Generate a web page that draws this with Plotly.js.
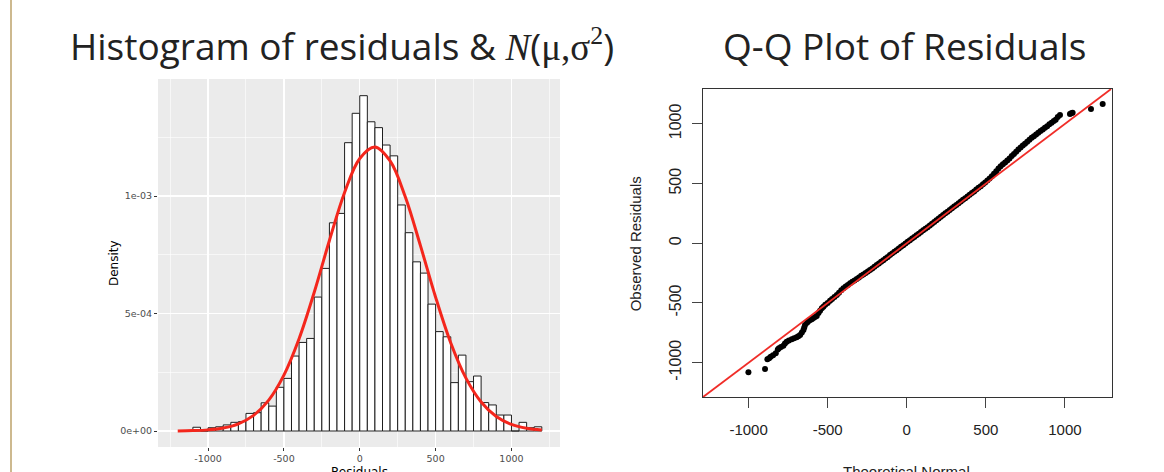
<!DOCTYPE html>
<html>
<head>
<meta charset="utf-8">
<script src="https://cdn.plot.ly/plotly-3.0.1.min.js"></script>
<style>html,body{margin:0;padding:0;background:#fff;}#chart{width:1164px;height:472px;}</style>
</head>
<body>
<div id="chart"></div>
<script>
// ---- Histogram data (bin width 50) ----
const binCenters = [-1075,-1025,-975,-925,-875,-825,-775,-725,-675,-625,-575,-525,-475,-425,-375,-325,-275,-225,-175,-125,-75,-25,
  25,75,125,175,225,275,325,375,425,475,525,575,625,675,725,775,825,875,925,975,1025,1075,1125,1175];
const binDensity = [1.6e-5,0,1.4e-5,1.8e-5,2.6e-5,3.7e-5,4.0e-5,7.5e-5,7.8e-5,1.20e-4,1.06e-4,1.86e-4,2.24e-4,3.19e-4,3.77e-4,3.94e-4,5.70e-4,6.92e-4,8.86e-4,9.26e-4,1.227e-3,1.352e-3,
  1.427e-3,1.316e-3,1.291e-3,1.217e-3,1.171e-3,9.62e-4,8.44e-4,7.20e-4,6.72e-4,5.40e-4,4.23e-4,4.01e-4,2.06e-4,3.23e-4,2.10e-4,2.34e-4,1.21e-4,1.11e-4,6.8e-5,6.8e-5,0,3.7e-5,1.4e-5,1.8e-5];

// ---- Normal density curve ----
const curveX = [-1200,-1100,-1000,-900,-800,-700,-600,-500,-400,-300,-200,-100,0,100,200,300,400,500,600,700,800,900,1000,1100,1200];
const curveY = [5.5e-7,1.7e-6,4.9e-6,1.28e-5,3.06e-5,6.64e-5,1.316e-4,2.38e-4,3.926e-4,5.906e-4,8.108e-4,1.0153e-3,1.1599e-3,1.2089e-3,1.1493e-3,9.968e-4,7.887e-4,5.693e-4,3.749e-4,2.251e-4,1.235e-4,6.17e-5,2.81e-5,1.17e-5,4.4e-6];

// ---- Histogram tick labels ----
const histXTicks = [-1000,-500,0,500,1000];
const histXTickText = ['-1000','-500','0','500','1000'];
const histXMinor = [-1250,-750,-250,250,750,1250];
const histYTicks = [0,5e-4,1e-3];
const histYTickText = ['0e+00','5e-04','1e-03'];
const histYMinor = [2.5e-4,7.5e-4,1.25e-3];

// ---- Q-Q plot data ----
const qqTheoretical = [-1001,-896,-881,-870,-860,-845,-828,-815,-808,-795,-780,-770,-759,-745,-727,-712,-696,-685,-674,-663,-653,-648,-643,-630,-620,-611,-600,-590,-580,-569,-558,-548,-537,-527,-515,-500,-485,-472,-457,-442,-428,-414,-400,-386,-372,-358,-344,-330,-316,-302,-288,-274,-260,-246,-232,-218,-204,-190,-176,-162,-148,-134,-120,-106,-92,-78,-64,-50,-36,-22,-8,6,20,34,48,62,76,90,104,118,132,146,160,174,188,202,216,230,244,258,272,286,300,314,328,342,356,370,384,398,412,426,440,454,468,482,496,510,524,538,552,566,580,594,608,622,636,650,664,678,692,706,720,734,748,762,776,790,804,818,832,846,860,874,888,902,916,930,942,955,969,1032,1040,1049,1165,1239];
const qqObserved = [-1080,-1053,-972,-962,-950,-937,-921,-890,-880,-868,-858,-840,-824,-814,-804,-795,-787,-778,-768,-748,-726,-705,-684,-665,-652,-642,-636,-626,-618,-609,-585,-565,-545,-531,-515,-500,-481,-466,-450,-433,-415,-394,-377,-363,-350,-335,-323,-312,-300,-287,-273,-262,-250,-237,-224,-211,-197,-183,-170,-155,-142,-127,-114,-99,-85,-72,-58,-44,-30,-16,-2,12,26,40,53,67,80,94,108,122,135,149,163,178,193,208,222,236,251,264,278,293,307,321,335,350,364,378,392,406,420,434,450,464,478,494,508,525,542,562,583,604,626,646,662,677,693,710,730,748,766,785,802,818,833,850,867,883,897,911,926,940,953,967,981,996,1010,1023,1035,1058,1075,1083,1088,1094,1125,1167];
const qqLineX = [-1290,1292];
const qqLineY = [-1290,1292];
const qqTicks = [-1000,-500,0,500,1000];
const qqTickText = ['-1000','-500','0','500','1000'];

const W = 1164, H = 472;
const px = v => v / W;
const py = v => 1 - v / H;

const traces = [
  {type:'bar', x: binCenters, y: binDensity, width: 50, xaxis:'x', yaxis:'y',
   marker:{color:'#ffffff', line:{color:'rgb(30,30,30)', width:1}}, hoverinfo:'skip'},
  {type:'scatter', mode:'lines', x: curveX, y: curveY, xaxis:'x', yaxis:'y',
   line:{color:'rgb(244,38,28)', width:3, shape:'spline'}, hoverinfo:'skip'},
  {type:'scatter', mode:'markers', x: qqTheoretical, y: qqObserved, xaxis:'x2', yaxis:'y2',
   marker:{color:'#000', size:6}, hoverinfo:'skip'},
  {type:'scatter', mode:'lines', x: qqLineX, y: qqLineY, xaxis:'x2', yaxis:'y2',
   line:{color:'rgb(240,45,40)', width:1.8}, hoverinfo:'skip'}
];

const ggTick = {family:'DejaVu Sans', size:9.5, color:'#4D4D4D'};
const rTick = {family:'Liberation Sans', size:15, color:'#222'};
const rTickY = {family:'Liberation Sans', size:16, color:'#222'};

const layout = {
  width: W, height: H,
  margin:{l:0,r:0,t:0,b:0},
  paper_bgcolor:'#fff', plot_bgcolor:'#fff',
  showlegend:false,
  bargap:0,
  xaxis:{domain:[px(158), px(560)], range:[-1330,1320], anchor:'y',
    tickmode:'array', tickvals: histXTicks, ticktext: histXTickText,
    showgrid:true, gridcolor:'#fff', gridwidth:1.2, zeroline:false, showline:false,
    ticks:'outside', ticklen:3, tickcolor:'#333', tickwidth:1, tickfont: ggTick,
    minor:{tickmode:'array', tickvals: histXMinor, showgrid:true, gridcolor:'#fff', gridwidth:0.6, ticks:''}},
  yaxis:{domain:[py(447), py(79)], range:[-6.8e-5, 1.498e-3], anchor:'x',
    tickmode:'array', tickvals: histYTicks, ticktext: histYTickText,
    showgrid:true, gridcolor:'#fff', gridwidth:1.2, zeroline:false, showline:false,
    ticks:'outside', ticklen:3, tickcolor:'#333', tickwidth:1, tickfont: ggTick,
    minor:{tickmode:'array', tickvals: histYMinor, showgrid:true, gridcolor:'#fff', gridwidth:0.6, ticks:''}},
  xaxis2:{domain:[px(702.7), px(1111.7)], range:[-1290,1296], anchor:'y2',
    tickmode:'array', tickvals: qqTicks, ticktext: qqTickText,
    showgrid:false, zeroline:false, showline:true, mirror:true, linecolor:'#333', linewidth:1,
    ticks:'outside', ticklen:10, tickcolor:'#444', tickwidth:1, tickfont: rTick, ticklabelstandoff:9},
  yaxis2:{domain:[py(397.3), py(89)], range:[-1290,1292], anchor:'x2',
    tickmode:'array', tickvals: qqTicks, ticktext: qqTickText, tickangle:-90,
    showgrid:false, zeroline:false, showline:true, mirror:true, linecolor:'#333', linewidth:1,
    ticks:'outside', ticklen:10, tickcolor:'#444', tickwidth:1, tickfont: rTickY, ticklabelstandoff:4},
  shapes:[
    {type:'rect', xref:'x domain', yref:'y domain', x0:0, x1:1, y0:0, y1:1, layer:'below',
     fillcolor:'#EBEBEB', line:{width:0}},
    {type:'line', xref:'paper', yref:'paper', x0:px(11), x1:px(11), y0:0, y1:1,
     line:{color:'#CDB98F', width:2}}
  ],
  annotations:[
    {xref:'paper', yref:'paper', x:px(342), y:py(45.5), xanchor:'center', yanchor:'middle', showarrow:false,
     text:'Histogram of residuals &amp; <span style="font-family:Liberation Serif"><i>N</i></span>(<span style="font-family:Liberation Serif">μ,σ<sup>2</sup></span>)',
     font:{family:'Open Sans', size:37, color:'#222'}},
    {xref:'paper', yref:'paper', x:px(905), y:py(45.5), xanchor:'center', yanchor:'middle', showarrow:false,
     text:'Q-Q Plot of Residuals', font:{family:'Open Sans', size:37, color:'#222'}},
    {xref:'paper', yref:'paper', x:px(114), y:py(263), xanchor:'center', yanchor:'middle', showarrow:false,
     text:'Density', textangle:-90, font:{family:'DejaVu Sans', size:12, color:'#000'}},
    {xref:'paper', yref:'paper', x:px(359.8), y:py(463), xanchor:'center', yanchor:'top', showarrow:false,
     text:'Residuals', font:{family:'DejaVu Sans', size:12, color:'#000'}},
    {xref:'paper', yref:'paper', x:px(635), y:py(243.3), xanchor:'center', yanchor:'middle', showarrow:false,
     text:'Observed Residuals', textangle:-90, font:{family:'Liberation Sans', size:15, color:'#222'}},
    {xref:'paper', yref:'paper', x:px(906.7), y:py(461), xanchor:'center', yanchor:'top', showarrow:false,
     text:'Theoretical Normal', font:{family:'Liberation Sans', size:15, color:'#222'}}
  ]
};

Plotly.newPlot('chart', traces, layout, {staticPlot:true, displayModeBar:false});
</script>
</body>
</html>
